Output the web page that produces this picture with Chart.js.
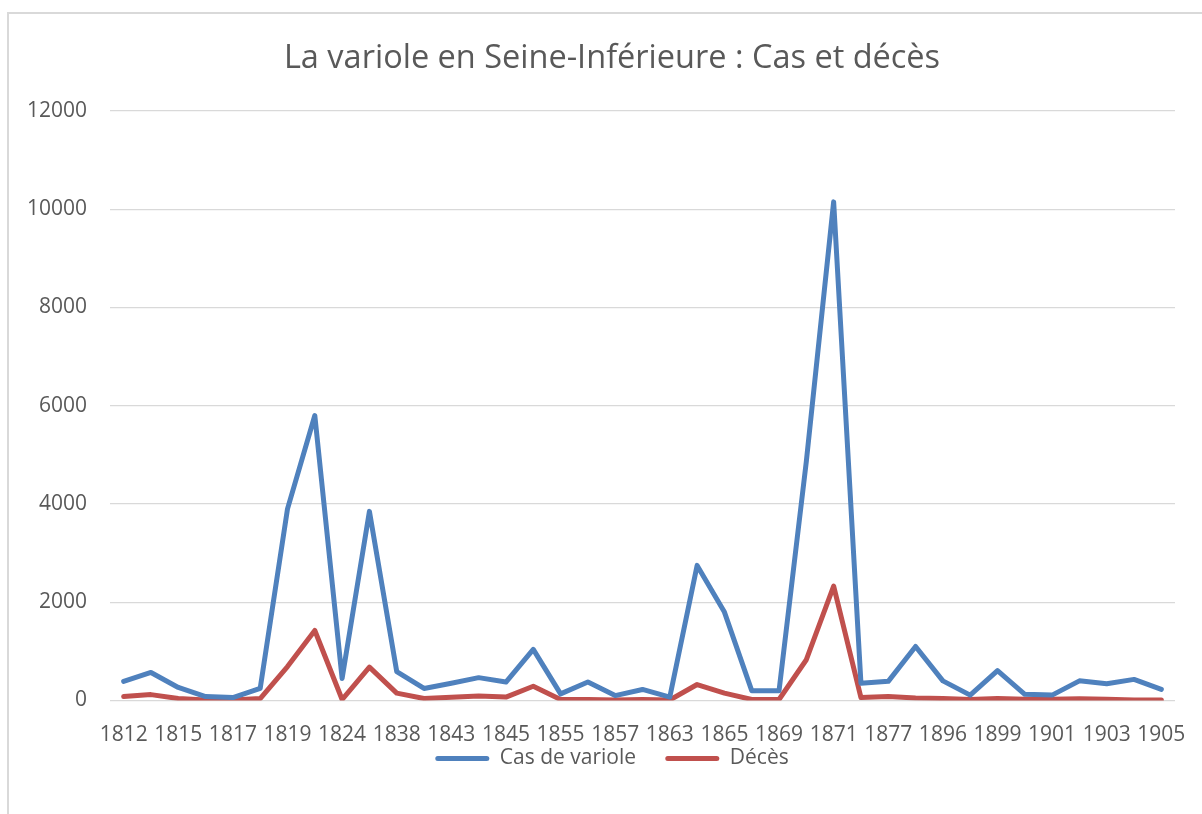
<!DOCTYPE html>
<html>
<head>
<meta charset="utf-8">
<script src="https://cdn.jsdelivr.net/npm/chart.js@4"></script>
<style>
  html, body { margin: 0; padding: 0; background: #ffffff; overflow: hidden; width: 1202px; height: 814px; }
  #frame { position: absolute; left: 7px; top: 12px; width: 1206px; height: 820px; border-left: 2px solid #d9d9d9; border-top: 2px solid #d9d9d9; }
  #wrap { position: absolute; left: 0; top: 0; width: 1206px; height: 765px; }
</style>
</head>
<body>
<div id="frame"><div id="wrap"><canvas id="c"></canvas></div></div>
<script>
const years = ['1812','1813','1815','1816','1817','1818','1819','1821','1824','1825',
               '1838','1840','1843','1844','1845','1849','1855','1856','1857','1858',
               '1863','1864','1865','1866','1869','1870','1871','1872','1877','1880',
               '1896','1898','1899','1900','1901','1902','1903','1904','1905'];
const casVariole = [387,570,265,80,60,245,3900,5800,450,3850,
                    590,245,350,465,375,1040,135,375,100,225,
                    70,2750,1800,200,200,4870,10150,350,390,1100,
                    400,110,610,125,110,400,340,430,225];
const deces = [80,120,40,10,10,40,690,1425,20,680,
               150,40,65,90,70,290,20,20,10,20,
               10,325,150,20,20,830,2330,60,80,50,
               40,20,40,25,25,35,25,10,10];
const yTicks = [0,2000,4000,6000,8000,10000,12000];

const BLUE = '#4f81bd', RED = '#c0504d', TXT = '#595959', GRID = '#d9d9d9';
const FONT = "'Open Sans', sans-serif";

new Chart(document.getElementById('c'), {
  type: 'line',
  data: {
    labels: years,
    datasets: [
      { label: 'Cas de variole', data: casVariole, borderColor: BLUE, backgroundColor: BLUE,
        borderWidth: 5, pointRadius: 0, tension: 0, borderJoinStyle: 'round', borderCapStyle: 'round' },
      { label: 'Décès', data: deces, borderColor: RED, backgroundColor: RED,
        borderWidth: 5, pointRadius: 0, tension: 0, borderJoinStyle: 'round', borderCapStyle: 'round' }
    ]
  },
  options: {
    responsive: true,
    maintainAspectRatio: false,
    animation: false,
    devicePixelRatio: 1,
    layout: { padding: 0 },
    plugins: {
      title: {
        display: true,
        text: 'La variole en Seine-Inférieure : Cas et décès',
        color: TXT,
        font: { family: FONT, size: 32.5, weight: 'normal' },
        padding: { top: 25.5, bottom: 32.5 }
      },
      legend: {
        position: 'bottom',
        labels: {
          color: TXT,
          font: { family: FONT, size: 21 },
          boxWidth: 54,
          boxHeight: 5,
          padding: 2,
          useBorderRadius: true,
          borderRadius: 2.5,
          generateLabels: (chart) => Chart.defaults.plugins.legend.labels.generateLabels(chart).map((l, i, arr) => {
            l.lineWidth = 0; l.fillStyle = l.strokeStyle;
            if (i < arr.length - 1) l.text = l.text + '     ';
            return l;
          })
        }
      },
      tooltip: { enabled: false }
    },
    scales: {
      x: {
        offset: true,
        grid: { display: false, drawTicks: false },
        border: { display: false },
        ticks: {
          autoSkip: false, maxRotation: 0, minRotation: 0, padding: 21.5,
          color: TXT, font: { family: FONT, size: 21 },
          callback: (v, i) => (i % 2 === 0 ? years[i] : '')
        },
        afterFit: (s) => { s.height = 45.5; }
      },
      y: {
        min: 0, max: 12000,
        afterBuildTicks: (s) => { s.ticks = yTicks.map(v => ({ value: v })); },
        grid: { color: GRID, lineWidth: 1.3, drawTicks: false },
        border: { display: false },
        ticks: { padding: 23, color: TXT, font: { family: FONT, size: 21 }, callback: (v) => String(v) },
        afterFit: (s) => { s.width = 101; }
      },
      yRight: {
        position: 'right',
        display: true,
        grid: { display: false, drawTicks: false },
        border: { display: false },
        ticks: { display: false },
        afterFit: (s) => { s.width = 40; }
      }
    }
  }
});
</script>
</body>
</html>
